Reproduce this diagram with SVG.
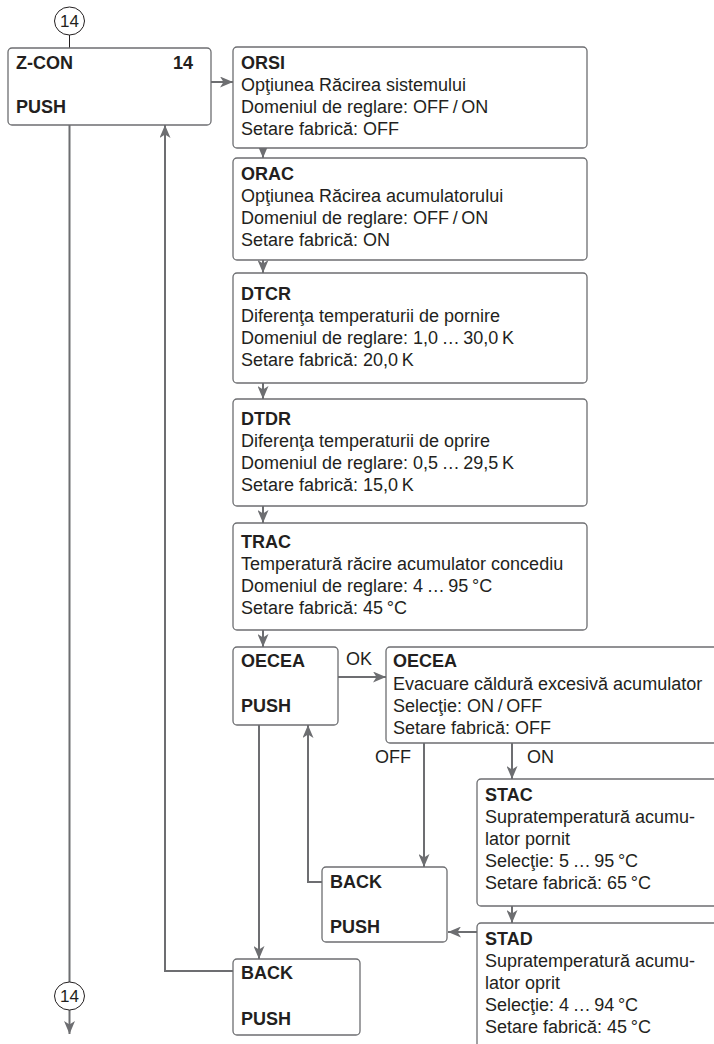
<svg xmlns="http://www.w3.org/2000/svg" width="714" height="1044" viewBox="0 0 714 1044">
<style>
.box{fill:#fff;stroke:#6d6e71;stroke-width:1.3}
.t{font-family:"Liberation Sans",Arial,sans-serif;font-size:18px;fill:#231f20}
.b{font-family:"Liberation Sans",Arial,sans-serif;font-size:18px;font-weight:bold;fill:#231f20}
.c{font-family:"Liberation Sans",Arial,sans-serif;font-size:17px;fill:#231f20}
.ln{fill:none;stroke:#6d6e71;stroke-width:2}
.cl{fill:#fff;stroke:#231f20;stroke-width:1}
</style>
<defs>
<marker id="ah" markerUnits="userSpaceOnUse" markerWidth="13" markerHeight="11" viewBox="0 0 13 11" refX="13" refY="5.5" orient="auto">
<path d="M0,0 L13,5.5 L0,11 L3.5,5.5 z" fill="#6d6e71"/>
</marker>
</defs>
<g id="connectors">
<line class="ln" x1="69.5" y1="35" x2="69.5" y2="48" style="stroke:#231f20;stroke-width:1"/>
<line class="ln" x1="211" y1="82" x2="233" y2="82" marker-end="url(#ah)"/>
<line class="ln" x1="263" y1="148" x2="263" y2="158" marker-end="url(#ah)"/>
<line class="ln" x1="263" y1="260" x2="263" y2="273" marker-end="url(#ah)"/>
<line class="ln" x1="263" y1="383" x2="263" y2="399" marker-end="url(#ah)"/>
<line class="ln" x1="263" y1="506" x2="263" y2="523" marker-end="url(#ah)"/>
<line class="ln" x1="263" y1="630" x2="263" y2="647" marker-end="url(#ah)"/>
<line class="ln" x1="338" y1="677" x2="386" y2="677" marker-end="url(#ah)"/>
<line class="ln" x1="424" y1="743" x2="424" y2="867" marker-end="url(#ah)"/>
<line class="ln" x1="512" y1="743" x2="512" y2="779" marker-end="url(#ah)"/>
<line class="ln" x1="512" y1="906" x2="512" y2="923" marker-end="url(#ah)"/>
<line class="ln" x1="477" y1="932" x2="448" y2="932" marker-end="url(#ah)"/>
<polyline class="ln" points="322,882 308,882 308,725" marker-end="url(#ah)"/>
<line class="ln" x1="259" y1="725" x2="259" y2="959" marker-end="url(#ah)"/>
<polyline class="ln" points="233,971 165,971 165,125" marker-end="url(#ah)"/>
<line class="ln" x1="69.5" y1="125" x2="69.5" y2="982"/>
<line class="ln" x1="69.5" y1="1010" x2="69.5" y2="1034" marker-end="url(#ah)"/>
<text class="t" x="346" y="665">OK</text>
<text class="t" x="375" y="763">OFF</text>
<text class="t" x="527" y="763">ON</text>
</g>
<g id="c14top">
<ellipse class="cl" cx="69.5" cy="21" rx="15" ry="14"/>
<text class="c" x="69.5" y="27" text-anchor="middle">14</text>
</g>
<g id="zcon">
<rect class="box" x="8" y="48" width="203" height="77" rx="4"/>
<text class="b" x="16" y="69">Z-CON</text>
<text class="b" x="193" y="69" text-anchor="end">14</text>
<text class="b" x="16" y="113">PUSH</text>
</g>
<g id="orsi">
<rect class="box" x="233" y="47" width="354" height="101" rx="4"/>
<text class="b" x="241" y="69">ORSI</text>
<text class="t" x="241" y="91">Opţiunea Răcirea sistemului</text>
<text class="t" x="241" y="113">Domeniul de reglare: OFF&#8201;/&#8201;ON</text>
<text class="t" x="241" y="135">Setare fabrică: OFF</text>
</g>
<g id="orac">
<rect class="box" x="233" y="158" width="354" height="102" rx="4"/>
<text class="b" x="241" y="180">ORAC</text>
<text class="t" x="241" y="202">Opţiunea Răcirea acumulatorului</text>
<text class="t" x="241" y="224">Domeniul de reglare: OFF&#8201;/&#8201;ON</text>
<text class="t" x="241" y="246">Setare fabrică: ON</text>
</g>
<g id="dtcr">
<rect class="box" x="233" y="273" width="354" height="110" rx="4"/>
<text class="b" x="241" y="300">DTCR</text>
<text class="t" x="241" y="322">Diferenţa temperaturii de pornire</text>
<text class="t" x="241" y="344">Domeniul de reglare: 1,0&#8201;…&#8201;30,0&#8201;K</text>
<text class="t" x="241" y="366">Setare fabrică: 20,0&#8201;K</text>
</g>
<g id="dtdr">
<rect class="box" x="233" y="399" width="354" height="107" rx="4"/>
<text class="b" x="241" y="425">DTDR</text>
<text class="t" x="241" y="447">Diferenţa temperaturii de oprire</text>
<text class="t" x="241" y="469">Domeniul de reglare: 0,5&#8201;…&#8201;29,5&#8201;K</text>
<text class="t" x="241" y="491">Setare fabrică: 15,0&#8201;K</text>
</g>
<g id="trac">
<rect class="box" x="233" y="523" width="354" height="107" rx="4"/>
<text class="b" x="241" y="548">TRAC</text>
<text class="t" x="241" y="570">Temperatură răcire acumulator concediu</text>
<text class="t" x="241" y="592">Domeniul de reglare: 4&#8201;…&#8201;95&#8201;°C</text>
<text class="t" x="241" y="614">Setare fabrică: 45&#8201;°C</text>
</g>
<g id="oecea-push">
<rect class="box" x="233" y="647" width="105" height="78" rx="4"/>
<text class="b" x="241" y="667">OECEA</text>
<text class="b" x="241" y="712">PUSH</text>
</g>
<g id="oecea">
<rect class="box" x="386" y="647" width="340" height="96" rx="4"/>
<text class="b" x="393" y="667">OECEA</text>
<text class="t" x="393" y="690">Evacuare căldură excesivă acumulator</text>
<text class="t" x="393" y="712">Selecţie: ON&#8201;/&#8201;OFF</text>
<text class="t" x="393" y="734">Setare fabrică: OFF</text>
</g>
<g id="stac">
<rect class="box" x="477" y="779" width="250" height="127" rx="4"/>
<text class="b" x="485" y="801">STAC</text>
<text class="t" x="485" y="823">Supratemperatură acumu-</text>
<text class="t" x="485" y="845">lator pornit</text>
<text class="t" x="485" y="867">Selecţie: 5&#8201;…&#8201;95&#8201;°C</text>
<text class="t" x="485" y="889">Setare fabrică: 65&#8201;°C</text>
</g>
<g id="back1">
<rect class="box" x="322" y="867" width="125" height="75" rx="4"/>
<text class="b" x="330" y="888">BACK</text>
<text class="b" x="330" y="933">PUSH</text>
</g>
<g id="stad">
<rect class="box" x="477" y="923" width="250" height="130" rx="4"/>
<text class="b" x="485" y="945">STAD</text>
<text class="t" x="485" y="967">Supratemperatură acumu-</text>
<text class="t" x="485" y="989">lator oprit</text>
<text class="t" x="485" y="1011">Selecţie: 4&#8201;…&#8201;94&#8201;°C</text>
<text class="t" x="485" y="1033">Setare fabrică: 45&#8201;°C</text>
</g>
<g id="back2">
<rect class="box" x="233" y="959" width="127" height="76" rx="4"/>
<text class="b" x="241" y="979">BACK</text>
<text class="b" x="241" y="1025">PUSH</text>
</g>
<g id="c14bottom">
<ellipse class="cl" cx="69.5" cy="996" rx="15" ry="14"/>
<text class="c" x="69.5" y="1002" text-anchor="middle">14</text>
</g>
</svg>
